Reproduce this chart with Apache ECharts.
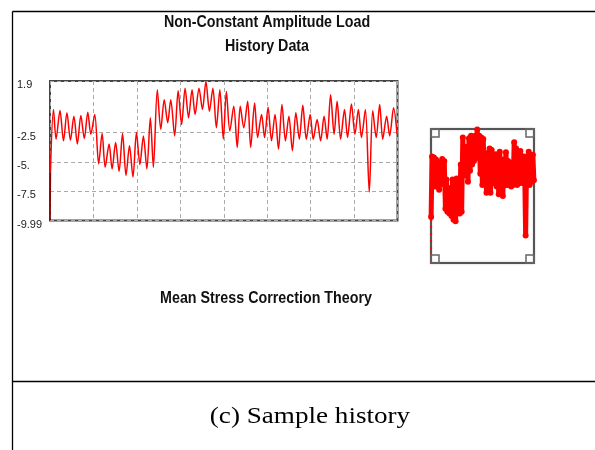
<!DOCTYPE html>
<html>
<head>
<meta charset="UTF-8">
<title>Non-Constant Amplitude Load History Data</title>
<script src="https://cdn.jsdelivr.net/npm/echarts@6/dist/echarts.min.js"></script>
<style>
  body { margin: 0; background: #fff; }
  #main { width: 595px; height: 450px; }
</style>
</head>
<body>
<div id="main"></div>
<script>
// load history: time index and load value at each peak / trough
var time = [0, 1, 8, 14, 23, 31, 39, 47, 55, 63,
    71, 79, 87, 94, 103, 112, 120, 127, 136, 143,
    151, 159, 167, 175, 183, 191, 199, 207, 215, 223,
    231, 238, 247, 255, 263, 271, 278, 287, 295, 303,
    311, 319, 327, 334, 343, 351, 359, 367, 375, 383,
    391, 399, 406, 414, 423, 431, 438, 446, 455, 462,
    471, 478, 487, 494, 502, 510, 518, 526, 534, 542,
    550, 558, 566, 574, 582, 590, 599, 606, 615, 623,
    631, 638, 646, 654, 661, 669, 678, 685, 694, 702,
    710, 717, 726, 735, 743, 751, 759, 766, 775, 782,
    791, 799];
var load = [-9.99, -5.9, -0.53, -3.06, -0.62, -3.2, -0.81, -3.15, -1.1, -3.48,
    -1.04, -3.0, -0.76, -2.64, -0.95, -5.17, -2.58, -5.45, -3.48, -5.59,
    -3.34, -5.81, -2.58, -6.15, -3.62, -6.29, -2.5, -5.22, -2.78, -5.59,
    -1.24, -5.45, 1.15, -2.22, 0.31, -1.66, 0.31, -2.78, 1.07, -1.8,
    1.29, -1.24, 1.15, -0.95, 1.29, -0.53, 1.85, -0.67, 1.29, -2.08,
    1.15, -3.06, 1.01, -2.36, -0.25, -3.76, -0.25, -2.08, 0.17, -3.76,
    0.03, -2.92, -0.95, -2.92, -0.34, -3.2, -0.95, -3.9, -0.11, -3.2,
    -1.1, -4.04, -0.81, -3.06, -0.17, -3.06, -0.95, -3.06, -1.38, -3.2,
    -1.1, -3.06, 0.73, -2.64, 0.17, -3.06, -0.53, -2.92, -0.06, -2.64,
    -0.53, -2.92, -0.53, -7.56, -0.62, -2.92, -0.11, -3.06, -1.1, -2.78,
    -0.39, -2.64];
var yTicks = [-9.99, -7.5, -5, -2.5, 1.9];
var yTickLabels = ['-9.99', '-7.5', '-5.', '-2.5', '1.9'];
var titleLines = ['Non-Constant Amplitude Load', 'History Data'];
var subTitle = 'Mean Stress Correction Theory';
var caption = '(c) Sample history';

var pts = time.map(function (t, i) { return [t, load[i]]; });
var startPts = pts.slice(0, 2);
var restPts = pts.slice(1);

// no narrow face installed, so the bold labels get squeezed with scaleX
var sans = '"Liberation Sans", Arial, sans-serif';
var mini = { left: 431, top: 129, width: 103, height: 134 };
var sq = 8;

var chart = echarts.init(document.getElementById('main'), null, { renderer: 'canvas' });

function corner(x, y) {
    return {
        type: 'rect', shape: { x: x, y: y, width: sq, height: sq },
        style: { fill: 'none', stroke: '#666', lineWidth: 1.5 }, z: 10
    };
}

function label(txt, x, y) {
    return {
        type: 'text', x: x, y: y, scaleX: 0.84,
        style: { text: txt, font: 'bold 17px ' + sans, fill: '#111', align: 'center', verticalAlign: 'middle' }
    };
}

chart.setOption({
    animation: false,
    backgroundColor: '#fff',
    grid: [
        { left: 50, top: 81, width: 347.5, height: 139.5, show: true, borderColor: '#444', borderWidth: 2 },
        { left: mini.left, top: mini.top, width: mini.width, height: mini.height,
          show: true, borderColor: '#555', borderWidth: 2, shadowColor: 'rgba(0,0,0,0.25)', shadowBlur: 2 }
    ],
    xAxis: [
        { type: 'value', gridIndex: 0, min: 0, max: 800, interval: 100,
          axisLine: { show: false }, axisTick: { show: false }, axisLabel: { show: false },
          splitLine: { show: true, lineStyle: { color: '#aaa', type: [4, 3], width: 1 } } },
        { type: 'value', gridIndex: 1, min: 0, max: 800, show: false, splitLine: { show: false } }
    ],
    yAxis: [
        { type: 'value', gridIndex: 0, min: -9.99, max: 1.9,
          axisLine: { show: false },
          axisTick: { show: false, customValues: yTicks },
          axisLabel: {
              customValues: yTicks, align: 'left', margin: 33,
              verticalAlign: 'top', lineHeight: 8,
              color: '#222', fontSize: 11, fontFamily: sans,
              formatter: function (v) {
                  var i = yTicks.indexOf(v);
                  return i >= 0 ? yTickLabels[i] : '';
              }
          },
          splitLine: { show: true, lineStyle: { color: '#aaa', type: [4, 3], width: 1 } } },
        { type: 'value', gridIndex: 1, min: -9.99, max: 1.9, show: false, splitLine: { show: false } }
    ],
    series: [
        { type: 'line', xAxisIndex: 0, yAxisIndex: 0, data: restPts, showSymbol: false, smooth: 0.3,
          lineStyle: { color: '#ff0000', width: 1.5 }, z: 3 },
        { type: 'line', xAxisIndex: 0, yAxisIndex: 0, data: startPts, showSymbol: false,
          lineStyle: { color: '#8b0000', width: 1.5 }, z: 4 },
        { type: 'line', xAxisIndex: 1, yAxisIndex: 1, data: restPts, symbol: 'circle', symbolSize: 6,
          itemStyle: { color: '#ff0000' }, lineStyle: { color: '#ff0000', width: 5 }, z: 3 },
        { type: 'line', xAxisIndex: 1, yAxisIndex: 1, data: startPts, showSymbol: false,
          lineStyle: { color: '#ff0000', width: 2, type: [2, 5] }, z: 3 }
    ],
    graphic: [
        { type: 'line', shape: { x1: 12.5, y1: 11.5, x2: 595, y2: 11.5 }, style: { stroke: '#000', lineWidth: 1.3 } },
        { type: 'line', shape: { x1: 12.5, y1: 11.5, x2: 12.5, y2: 450 }, style: { stroke: '#000', lineWidth: 1.3 } },
        { type: 'line', shape: { x1: 12.5, y1: 381.5, x2: 595, y2: 381.5 }, style: { stroke: '#000', lineWidth: 1.3 } },
        label(titleLines[0], 267, 22),
        label(titleLines[1], 267, 46),
        label(subTitle, 266, 298),
        { type: 'text', x: 310, y: 417, scaleX: 1.13,
          style: { text: caption, font: '24px "Liberation Serif", "Times New Roman", serif', fill: '#000', align: 'center', verticalAlign: 'middle' } },
        corner(mini.left, mini.top),
        corner(mini.left + mini.width - sq, mini.top),
        corner(mini.left, mini.top + mini.height - sq),
        corner(mini.left + mini.width - sq, mini.top + mini.height - sq)
    ]
});
</script>
</body>
</html>
